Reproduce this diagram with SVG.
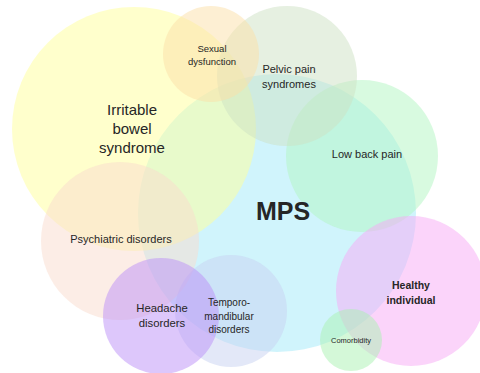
<svg xmlns="http://www.w3.org/2000/svg" width="480" height="373" viewBox="0 0 480 373">
<style>
.c{fill-opacity:0.5;stroke:none}
text{font-family:"Liberation Sans",Arial,sans-serif;text-anchor:middle;fill:#262626}
.b{font-weight:bold}
</style>
<rect width="480" height="373" fill="#ffffff"/>
<g id="mps"><circle class="c" cx="277" cy="213" r="139" fill="#a1e9f9"/></g>
<g id="ibs"><circle class="c" cx="134" cy="129" r="122" fill="#ffff99"/></g>
<g id="lowback"><circle class="c" cx="362" cy="156" r="76" fill="#b1f5c1"/></g>
<g id="pelvic"><circle class="c" cx="287" cy="76" r="70" fill="#cde1c3"/></g>
<g id="sexual"><circle class="c" cx="211" cy="54" r="48" fill="#fbdfa8"/></g>
<g id="psychiatric"><circle class="c" cx="120" cy="241" r="79" fill="#f9dccd"/></g>
<g id="temporo"><circle class="c" cx="231" cy="311" r="56" fill="#c7d1f1"/></g>
<g id="headache"><circle class="c" cx="161" cy="316" r="58" fill="#bc8ff7"/></g>
<g id="healthy"><circle class="c" cx="411" cy="291" r="75" fill="#f7a9f5"/></g>
<g id="comorbidity"><circle class="c" cx="351" cy="340" r="31" fill="#a9f1b1"/></g>
<g id="connectors"></g>
<g id="labels">
<text x="212" y="52" font-size="9.5" fill="#595959">Sexual</text>
<text x="212" y="65" font-size="9.5" fill="#595959">dysfunction</text>
<text x="132" y="115" font-size="15">Irritable</text>
<text x="132" y="134" font-size="15">bowel</text>
<text x="132" y="153" font-size="15">syndrome</text>
<text x="289" y="73" font-size="11">Pelvic pain</text>
<text x="289" y="88" font-size="11">syndromes</text>
<text x="367" y="158" font-size="11">Low back pain</text>
<text x="283" y="220" font-size="25" class="b" fill="#000000">MPS</text>
<text x="121" y="243" font-size="11">Psychiatric disorders</text>
<text x="162" y="312" font-size="11.3">Headache</text>
<text x="162" y="327" font-size="11.3">disorders</text>
<text x="229" y="306" font-size="10">Temporo-</text>
<text x="229" y="320" font-size="10">mandibular</text>
<text x="229" y="333" font-size="10">disorders</text>
<text x="411" y="289" font-size="10.5" class="b">Healthy</text>
<text x="411" y="304" font-size="10.5" class="b">individual</text>
<text x="351" y="343" font-size="7.5">Comorbidity</text>
</g>
</svg>
